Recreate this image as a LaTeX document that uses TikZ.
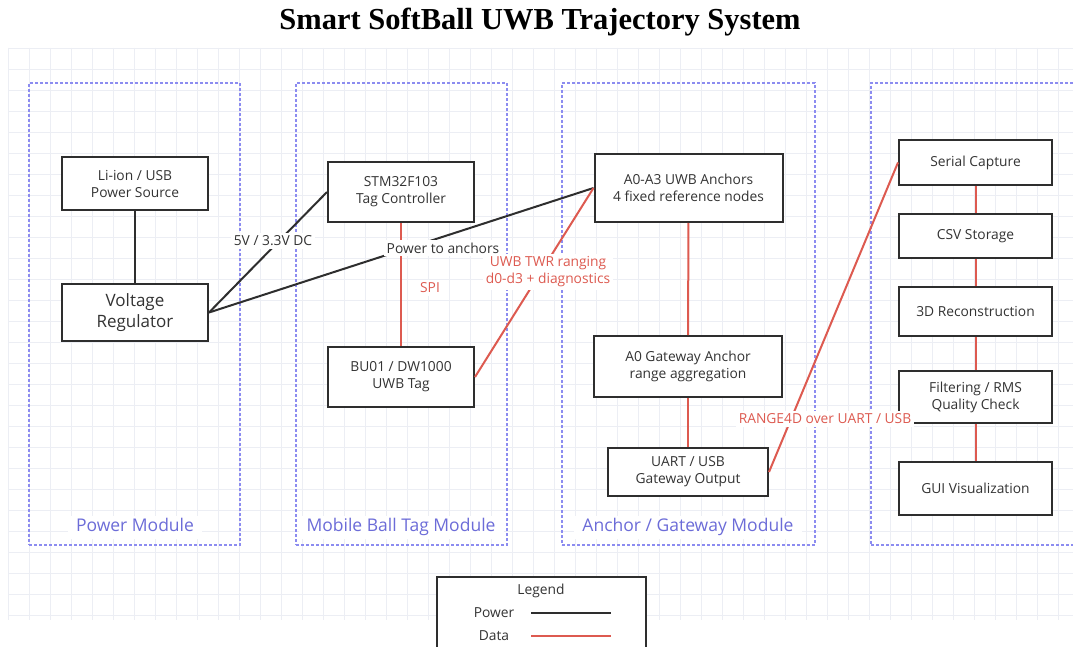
\documentclass[tikz,border=0pt]{standalone}
\usepackage{fontspec}
\setmainfont{Open Sans}
\newfontfamily\titlefont{Liberation Serif}
\usepackage{tikz}
\usetikzlibrary{positioning}
\definecolor{gridgray}{HTML}{ECEEF4}
\definecolor{boxgray}{HTML}{2E2E2E}
\definecolor{textgray}{HTML}{333333}
\definecolor{datared}{HTML}{DD5A50}
\definecolor{modblue}{HTML}{8C8CF0}
\definecolor{modtext}{HTML}{6C6CD8}
\tikzset{%
  % Specifications for style of nodes:
            base/.style = {rectangle, draw=boxgray, line width=2pt,
                           fill=white, align=center, text=textgray,
                           font=\fontsize{13.8}{17}\selectfont},
         pwrunit/.style = {base, minimum width=146pt},
         tagunit/.style = {base, minimum width=146pt},
      anchorunit/.style = {base, minimum width=188pt},
        hostunit/.style = {base, minimum width=153pt},
          module/.style = {rectangle, draw=modblue, line width=1.3pt,
                           dash pattern=on 3pt off 2pt},
        modlabel/.style = {fill=white, text=modtext, inner xsep=8pt,
                           inner ysep=3pt, text height=13pt, text depth=4pt,
                           font=\fontsize{17.5}{20}\selectfont},
        pwrlabel/.style = {fill=white, text=textgray, inner sep=3pt,
                           font=\fontsize{13.8}{17}\selectfont},
       datalabel/.style = {pwrlabel, text=datared, align=center},
           power/.style = {draw=boxgray, line width=2pt},
            data/.style = {draw=datared, line width=2pt},
        gridline/.style = {draw=gridgray, line width=0.8pt},
}

\begin{document}
\begin{tikzpicture}[x=1pt, y=-1pt]
  \useasboundingbox (0,0) rectangle (1073,647);
  \clip (0,0) rectangle (1073,647);
  \fill[white] (0,0) rectangle (1073,647);
  % background grid
  \foreach \gx in {0,...,51}
    \draw[gridline] ({8+21*\gx},48) -- ({8+21*\gx},620);
  \foreach \gy in {0,...,27}
    \draw[gridline] (8,{48+21*\gy}) -- (1073,{48+21*\gy});

  \node (title) at (540,22)
        {\titlefont\bfseries\fontsize{30.5}{32}\selectfont Smart SoftBall UWB Trajectory System};

  % Specification of module frames
  \node (pwrmod)    [module, minimum width=211pt, minimum height=462pt] at (134.5,314) {};
  \node (tagmod)    [module, minimum width=211pt, minimum height=462pt] at (401.5,314) {};
  \node (anchormod) [module, minimum width=253pt, minimum height=462pt] at (688.5,314) {};
  \node (hostmod)   [module, minimum width=220pt, minimum height=462pt] at (981,314) {};
  \node (pwrmodlbl)    [modlabel] at (135,527) {Power Module};
  \node (tagmodlbl)    [modlabel] at (401,527) {Mobile Ball Tag Module};
  \node (anchormodlbl) [modlabel] at (688,527) {Anchor / Gateway Module};

  % Specification of nodes (position, etc.)
  \node (source)  [pwrunit, minimum height=53pt] at (135,184)  {Li-ion / USB\\Power Source};
  \node (reg)     [pwrunit, minimum height=57pt,
                   font=\fontsize{17}{21}\selectfont] at (135,312.5) {Voltage\\Regulator};
  \node (mcu)     [tagunit, minimum height=60pt] at (401,192)  {STM32F103\\Tag Controller};
  \node (uwbtag)  [tagunit, minimum height=60pt] at (401,377)  {BU01 / DW1000\\UWB Tag};
  \node (anchors) [anchorunit, minimum height=68pt] at (688.5,188) {A0-A3 UWB Anchors\\4 fixed reference nodes};
  \node (gateway) [anchorunit, minimum height=61pt] at (688,366.5) {A0 Gateway Anchor\\range aggregation};
  \node (gwout)   [base, minimum width=160pt, minimum height=48pt] at (688,472) {UART / USB\\Gateway Output};
  \node (capture) [hostunit, minimum height=45pt] at (975.5,162.5) {Serial Capture};
  \node (csv)     [hostunit, minimum height=44pt] at (975.5,236)   {CSV Storage};
  \node (recon)   [hostunit, minimum height=49pt] at (975.5,311.5) {3D Reconstruction};
  \node (filter)  [hostunit, minimum height=52pt] at (975.5,397)   {Filtering / RMS\\Quality Check};
  \node (gui)     [hostunit, minimum height=53pt] at (975.5,488.5) {GUI Visualization};

  % Specification of lines between nodes specified above
  \draw[power]   (source) -- (reg);
  \draw[power]  (reg.east) -- (mcu.west);
  \draw[power]  (reg.east) -- (anchors.west);
  \draw[data]       (mcu) -- (uwbtag);
  \draw[data] (uwbtag.east) -- (anchors.west);
  \draw[data]   (anchors) -- (gateway);
  \draw[data]   (gateway) -- (gwout);
  \draw[data] (gwout.east) -- (capture.west);
  \draw[data]   (capture) -- (csv);
  \draw[data]       (csv) -- (recon);
  \draw[data]     (recon) -- (filter);
  \draw[data]    (filter) -- (gui);

  % labels on the connectors
  \node (dclbl)    [pwrlabel]  at (273,241) {5V / 3.3V DC};
  \node (anchorpwrlbl) [pwrlabel] at (443,248) {Power to anchors};
  \node (spilbl)   [datalabel] at (430,288) {SPI};
  \node (twrlbl)   [datalabel] at (548,272) {UWB TWR ranging\\d0-d3 + diagnostics};
  \node (rangelbl) [datalabel] at (825,419) {RANGE4D over UART / USB};

  % legend
  \node (legend) [base, minimum width=209pt, minimum height=100pt,
                  anchor=north] at (541.5,576) {};
  \node (legendlbl) [pwrlabel, fill=none] at (541,591) {Legend};
  \node (powerlbl)  [pwrlabel, fill=none] at (494,613) {Power};
  \node (datalbl)   [pwrlabel, fill=none] at (494,636) {Data};
  \coordinate (powerA) at (531,613);
  \coordinate (powerB) at (611,613);
  \coordinate (dataA)  at (531,636);
  \coordinate (dataB)  at (611,636);
  \draw[power] (powerA) -- (powerB);
  \draw[data]   (dataA) -- (dataB);
\end{tikzpicture}
\end{document}
